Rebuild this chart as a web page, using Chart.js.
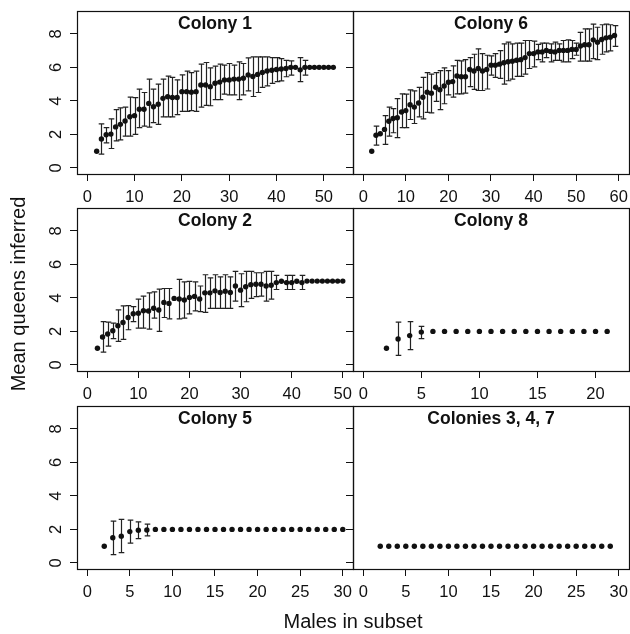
<!DOCTYPE html>
<html lang="en">
<head>
  <meta charset="UTF-8">
  <title>Mean queens inferred by males in subset</title>
  <script src="https://cdn.jsdelivr.net/npm/chart.js"></script>
  <style>
    html, body {
      margin: 0;
      padding: 0;
      background: #fff;
      overflow: hidden;
    }
    #page {
      position: relative;
      width: 630px;
      height: 634px;
      overflow: hidden;
      font-family: "Liberation Sans", Arial, sans-serif;
      color: #111;
    }
    #page canvas {
      position: absolute;
    }
    .axis-title {
      position: absolute;
      font-size: 20px;
      line-height: 20px;
      text-align: center;
      white-space: nowrap;
    }
    #xTitle { left: 203px; top: 611px; width: 300px; }
    #yTitle { left: -132px; top: 284px; width: 300px; transform: rotate(-90deg); }
  </style>
</head>
<body>

<div id="page">
  <canvas id="c1" width="376" height="238"></canvas>
  <canvas id="c6" width="376" height="238"></canvas>
  <canvas id="c2" width="376" height="238"></canvas>
  <canvas id="c8" width="376" height="238"></canvas>
  <canvas id="c5" width="376" height="238"></canvas>
  <canvas id="c347" width="376" height="238"></canvas>
  <div class="axis-title" id="xTitle">Males in subset</div>
  <div class="axis-title" id="yTitle">Mean queens inferred</div>
</div>

<script>
  // y axis is the same everywhere
  const yTicks = [0, 2, 4, 6, 8];

  // Colony 1
  const c1Males = [2, 3, 4, 5, 6, 7, 8, 9, 10, 11, 12, 13, 14, 15, 16, 17, 18, 19, 20, 21, 22, 23, 24, 25, 26, 27,
    28, 29, 30, 31, 32, 33, 34, 35, 36, 37, 38, 39, 40, 41, 42, 43, 44, 45, 46, 47, 48, 49, 50, 51, 52];
  const c1Mean = [1.0, 1.73, 1.98, 2.02, 2.45, 2.6, 2.8, 3.05, 3.12, 3.5, 3.5,
    3.85, 3.65, 3.8, 4.15, 4.25, 4.2, 4.2, 4.55, 4.55, 4.52,
    4.55, 4.95, 4.95, 4.85, 5.05, 5.12, 5.25, 5.25, 5.3, 5.3,
    5.35, 5.55, 5.45, 5.58, 5.7, 5.78, 5.83, 5.87, 5.9, 5.93,
    6.0, 6.0, 5.85, 6.0, 6.0, 6.0, 6.0, 6.0, 6.0, 6.0];
  const c1Upper = [null, 2.63, 2.4, 2.93, 3.48, 3.58, 3.63, 4.22, 4.2, 4.7, 4.5,
    5.3, 4.7, 5.0, 5.3, 5.48, 5.4, 5.25, 5.55, 5.78, 5.68,
    5.78, 6.19, 6.29, 5.97, 6.07, 6.19, 6.13, 6.23, 6.13, 6.33,
    6.23, 6.56, 6.62, 6.62, 6.62, 6.62, 6.58, 6.58, 6.52, 6.42,
    6.38, null, 6.58, 6.42, null, null, null, null, null, null];
  const c1Lower = [null, 0.83, 1.5, 1.16, 1.61, 1.67, 1.9, 1.9, 2.0, 2.4, 2.5,
    2.44, 2.7, 2.6, 3.05, 3.05, 3.05, 3.18, 3.38, 3.38, 3.42,
    3.38, 3.63, 3.73, 3.71, 4.07, 4.07, 4.4, 4.36, 4.36, 4.07,
    4.36, 4.6, 4.26, 4.5, 4.81, 4.89, 5.05, 5.15, 5.19, 5.44,
    5.54, null, 5.15, 5.54, null, null, null, null, null, null];
  const c1Ticks = [0, 10, 20, 30, 40, 50];

  // Colony 6
  const c6Males = [2, 3, 4, 5, 6, 7, 8, 9, 10, 11, 12, 13, 14, 15, 16, 17, 18, 19, 20, 21, 22, 23, 24, 25, 26, 27,
    28, 29, 30, 31, 32, 33, 34, 35, 36, 37, 38, 39, 40, 41, 42, 43, 44, 45, 46, 47, 48, 49, 50, 51, 52, 53,
    54, 55, 56, 57, 58, 59];
  const c6Mean = [1.0, 1.95, 2.04, 2.3, 2.79, 2.95, 2.99, 3.34, 3.42, 3.77,
    3.63, 3.87, 4.22, 4.52, 4.46, 4.81, 4.66, 4.89, 5.11, 5.15,
    5.48, 5.44, 5.44, 5.87, 5.78, 5.93, 5.78, 5.87, 6.13, 6.13,
    6.19, 6.27, 6.33, 6.37, 6.42, 6.46, 6.58, 6.82, 6.82, 6.92,
    6.92, 7.01, 6.95, 6.92, 7.01, 7.01, 7.01, 7.07, 7.07, 7.27,
    7.35, 7.35, 7.64, 7.5, 7.66, 7.76, 7.8, 7.9];
  const c6Upper = [null, 2.5, null, 3.12, 3.63, 3.54, 4.13, 4.42, 4.4, 4.66,
    4.6, 4.81, 5.4, 5.68, 5.6, 5.68, 5.8, 5.97, 5.8, 6.09,
    6.42, 6.38, 6.46, 6.58, 6.78, 7.1, 6.82, 6.72, 6.68, 6.82,
    7.0, 7.4, 7.5, 7.4, 7.45, 7.45, 7.6, 7.6, 7.56, 7.37,
    7.45, 7.45, 7.4, 7.5, 7.4, 7.6, 7.64, 7.6, 7.45, 8.09,
    8.29, 8.29, 8.58, 8.39, 8.54, 8.58, 8.54, 8.49];
  const c6Lower = [null, 1.36, null, 1.41, 1.9, 2.1, 1.81, 2.4, 2.4, 2.89,
    2.65, 3.05, 2.93, 3.32, 3.28, 3.97, 3.48, 3.83, 4.36, 4.22,
    4.42, 4.42, 4.46, 4.85, 4.69, 4.62, 4.62, 4.71, 5.54, 5.4,
    5.34, 5.0, 5.2, 5.3, 5.46, 5.46, 5.6, 5.93, 6.03, 6.46,
    6.33, 6.58, 6.33, 6.42, 6.42, 6.33, 6.33, 6.52, 6.72, 6.37,
    6.37, 6.37, 6.52, 6.46, 6.78, 6.92, 6.98, 7.25];
  const c6Ticks = [0, 10, 20, 30, 40, 50, 60];

  // Colony 2
  const c2Males = [2, 3, 4, 5, 6, 7, 8, 9, 10, 11, 12, 13, 14, 15, 16, 17, 18, 19, 20, 21, 22, 23, 24, 25, 26, 27,
    28, 29, 30, 31, 32, 33, 34, 35, 36, 37, 38, 39, 40, 41, 42, 43, 44, 45, 46, 47, 48, 49, 50];
  const c2Mean = [1.0, 1.67, 1.85, 2.04, 2.34, 2.53, 2.83, 3.05, 3.08, 3.24,
    3.22, 3.38, 3.28, 3.73, 3.67, 3.97, 3.93, 3.87, 4.03, 4.09,
    3.93, 4.3, 4.3, 4.42, 4.32, 4.4, 4.32, 4.71, 4.46, 4.66,
    4.79, 4.81, 4.81, 4.71, 4.75, 4.91, 4.99, 4.91, 4.91, 4.99,
    4.91, 5.0, 5.0, 5.0, 5.0, 5.0, 5.0, 5.0, 5.0];
  const c2Upper = [null, 2.59, 2.55, 2.5, 3.28, 3.52, 3.54, 3.48, 3.93, 4.1,
    4.3, 4.36, 4.52, 4.56, 4.56, null, 5.1, 4.95, 4.99, 4.95,
    4.71, 5.38, 5.19, 5.38, 5.25, 5.38, 5.25, 5.58, 5.44, 5.58,
    5.58, 5.5, 5.5, 5.58, 5.58, 5.34, null, 5.34, 5.34, null,
    5.34, null, null, null, null, null, null, null, null];
  const c2Lower = [null, 0.77, 1.12, 1.57, 1.41, 1.53, 2.1, 2.59, 2.2, 2.2,
    2.14, 2.79, 2.0, 2.83, 2.75, null, 2.75, 2.79, 3.05, 3.22,
    3.18, 3.14, 3.38, 3.38, 3.38, 3.38, 3.38, 3.81, 3.48, 3.77,
    3.97, 4.07, 4.1, 3.81, 3.93, 4.5, null, 4.5, 4.5, null,
    4.5, null, null, null, null, null, null, null, null];
  const c2Ticks = [0, 10, 20, 30, 40, 50];

  // Colony 8
  const c8Males = [2, 3, 4, 5, 6, 7, 8, 9, 10, 11, 12, 13, 14, 15, 16, 17, 18, 19, 20, 21];
  const c8Mean = [1.0, 1.55, 1.75, 1.96, 2.0, 2.0, 2.0, 2.0, 2.0, 2.0, 2.0, 2.0, 2.0, 2.0, 2.0, 2.0, 2.0, 2.0, 2.0, 2.0];
  const c8Upper = [null, 2.55, 2.59, 2.3, null, null, null, null, null, null, null, null, null, null, null, null, null, null, null, null];
  const c8Lower = [null, 0.57, 0.92, 1.57, null, null, null, null, null, null, null, null, null, null, null, null, null, null, null, null];
  const c8Ticks = [0, 5, 10, 15, 20];

  // Colony 5
  const c5Males = [2, 3, 4, 5, 6, 7, 8, 9, 10, 11, 12, 13, 14, 15, 16, 17, 18, 19, 20, 21, 22, 23, 24, 25, 26, 27,
    28, 29, 30];
  const c5Mean = [1.0, 1.5, 1.6, 1.87, 1.95, 1.97, 2.0, 2.0, 2.0, 2.0, 2.0, 2.0, 2.0, 2.0, 2.0, 2.0, 2.0, 2.0, 2.0,
    2.0, 2.0, 2.0, 2.0, 2.0, 2.0, 2.0, 2.0, 2.0, 2.0];
  const c5Upper = [null, 2.5, 2.6, 2.55, 2.45, 2.32, null, null, null, null, null, null, null, null, null, null, null,
    null, null, null, null, null, null, null, null, null, null, null, null];
  const c5Lower = [null, 0.5, 0.62, 1.18, 1.45, 1.61, null, null, null, null, null, null, null, null, null, null, null,
    null, null, null, null, null, null, null, null, null, null, null, null];
  const c5Ticks = [0, 5, 10, 15, 20, 25, 30];

  // Colonies 3, 4, 7
  const c347Males = [2, 3, 4, 5, 6, 7, 8, 9, 10, 11, 12, 13, 14, 15, 16, 17, 18, 19, 20, 21, 22, 23, 24, 25, 26, 27,
    28, 29];
  const c347Mean = [1.0, 1.0, 1.0, 1.0, 1.0, 1.0, 1.0, 1.0, 1.0, 1.0, 1.0, 1.0, 1.0, 1.0, 1.0, 1.0, 1.0, 1.0, 1.0,
    1.0, 1.0, 1.0, 1.0, 1.0, 1.0, 1.0, 1.0, 1.0];
  const c347Upper = [];
  const c347Lower = [];
  const c347Ticks = [0, 5, 10, 15, 20, 25, 30];

  const FONT = '"Liberation Sans", Arial, sans-serif';
  const INK = '#111';
  const PAD_TOP = 30;

  // one entry per panel: canvas id, title, data arrays, x limit, where the plot box sits on the page
  const panels = [
    { id: 'c1', title: 'Colony 1', males: c1Males, mean: c1Mean, upper: c1Upper, lower: c1Lower, ticks: c1Ticks, xlim: 54, left: 77, top: 11, yLabels: true },
    { id: 'c6', title: 'Colony 6', males: c6Males, mean: c6Mean, upper: c6Upper, lower: c6Lower, ticks: c6Ticks, xlim: 60, left: 353, top: 11, yLabels: false },
    { id: 'c2', title: 'Colony 2', males: c2Males, mean: c2Mean, upper: c2Upper, lower: c2Lower, ticks: c2Ticks, xlim: 50, left: 77, top: 208, yLabels: true },
    { id: 'c8', title: 'Colony 8', males: c8Males, mean: c8Mean, upper: c8Upper, lower: c8Lower, ticks: c8Ticks, xlim: 22, left: 353, top: 208, yLabels: false },
    { id: 'c5', title: 'Colony 5', males: c5Males, mean: c5Mean, upper: c5Upper, lower: c5Lower, ticks: c5Ticks, xlim: 30, left: 77, top: 406, yLabels: true },
    { id: 'c347', title: 'Colonies 3, 4, 7', males: c347Males, mean: c347Mean, upper: c347Upper, lower: c347Lower, ticks: c347Ticks, xlim: 30, left: 353, top: 406, yLabels: false }
  ];

  function makePanel(p) {
    const canvas = document.getElementById(p.id);
    canvas.style.left = (p.left - 80) + 'px';
    canvas.style.top = (p.top - PAD_TOP) + 'px';

    // error bars with little caps, drawn under the points
    const errorBars = {
      id: 'errorBars',
      beforeDatasetsDraw(chart) {
        const { ctx, scales: { x, y } } = chart;
        ctx.save();
        ctx.strokeStyle = '#222';
        ctx.lineWidth = 1.2;
        p.upper.forEach((hi, i) => {
          if (hi == null) return;
          const px = Math.round(x.getPixelForValue(p.males[i])) + 0.5;
          const top = y.getPixelForValue(hi);
          const bot = y.getPixelForValue(p.lower[i]);
          ctx.beginPath();
          ctx.moveTo(px, top); ctx.lineTo(px, bot);
          ctx.moveTo(px - 2.8, top); ctx.lineTo(px + 2.8, top);
          ctx.moveTo(px - 2.8, bot); ctx.lineTo(px + 2.8, bot);
          ctx.stroke();
        });
        ctx.restore();
      }
    };

    // box round the plot and the title inside it
    const frame = {
      id: 'frame',
      afterDraw(chart) {
        const { ctx, chartArea: a } = chart;
        ctx.save();
        ctx.strokeStyle = INK;
        ctx.lineWidth = 1.2;
        ctx.strokeRect(a.left + 0.5, a.top + 0.5, a.width, a.height);
        ctx.fillStyle = INK;
        ctx.font = 'bold 17.5px ' + FONT;
        ctx.textAlign = 'center';
        ctx.textBaseline = 'middle';
        ctx.fillText(p.title, (a.left + a.right) / 2, a.top + 13);
        ctx.restore();
      }
    };

    new Chart(canvas, {
      type: 'scatter',
      data: {
        datasets: [{
          data: p.males.map((m, i) => ({ x: m, y: p.mean[i] })),
          pointRadius: 2.7,
          pointBackgroundColor: INK,
          pointBorderWidth: 0,
          showLine: false
        }]
      },
      options: {
        responsive: false,
        animation: false,
        layout: { padding: { top: PAD_TOP, right: 20, left: 0, bottom: 0 } },
        plugins: {
          legend: { display: false },
          tooltip: { enabled: false }
        },
        scales: {
          x: {
            type: 'linear',
            min: -0.04 * p.xlim,
            max: 1.04 * p.xlim,
            afterBuildTicks: s => { s.ticks = p.ticks.map(v => ({ value: v })); },
            afterFit: s => { s.height = 45; },
            grid: { drawOnChartArea: false, drawTicks: true, tickLength: 7, color: INK },
            border: { display: false },
            ticks: { color: INK, font: { family: FONT, size: 16.5 }, padding: 7, maxRotation: 0, autoSkip: false }
          },
          y: {
            min: -0.36,
            max: 9.36,
            afterBuildTicks: s => { s.ticks = yTicks.map(v => ({ value: v })); },
            afterFit: s => { s.width = 80; },
            grid: { drawOnChartArea: false, drawTicks: true, tickLength: 7, color: INK },
            border: { display: false },
            ticks: {
              display: p.yLabels,
              color: INK,
              font: { family: FONT, size: 16.5 },
              minRotation: 90,
              maxRotation: 90,
              crossAlign: 'center',
              padding: 9
            }
          }
        }
      },
      plugins: [errorBars, frame]
    });
  }

  panels.forEach(makePanel);
</script>

</body>
</html>
